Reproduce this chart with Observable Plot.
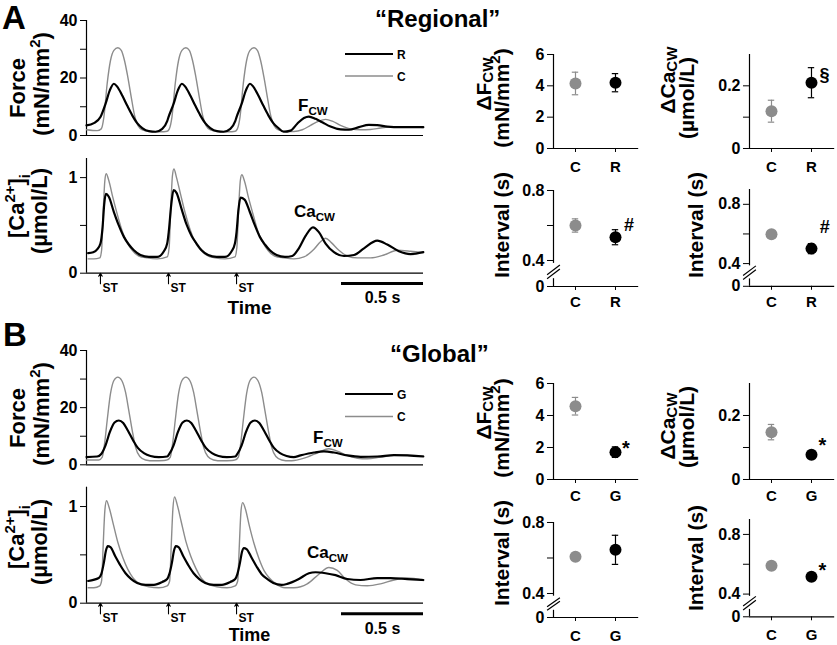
<!DOCTYPE html>
<html><head><meta charset="utf-8">
<script src="https://cdn.jsdelivr.net/npm/d3@7"></script>
<script src="https://cdn.jsdelivr.net/npm/@observablehq/plot@0.6"></script>
<style>
body{margin:0;background:#fff;}
#fig{position:relative;width:837px;height:645px;background:#fff;}
#fig svg{position:absolute;overflow:visible;}
</style></head><body><div id="fig"></div>
<script>
// ---------- time-series data: [time (ms), value] ----------
const T_MAX = 2055;
const stimTimes = [85, 500, 915];
const scaleBar = [1555, 2055];

const forceA_C = [[0,2.0],[65,1.7],[90,2.3],[106,6.4],[126,18],[146,26],[167,29.6],[191,30.5],[212,29.6],[232,26],[252,20.3],[273,13.3],[293,7],[313,3.5],[340,2],[390,1.4],[451,1.3],[492,1.5],
[505,2.3],[521,6.4],[541,18],[561,26],[582,29.6],[606,30.5],[627,29.6],[647,26],[667,20.3],[688,13.3],[708,7],[728,3.5],[755,2],[805,1.4],[866,1.3],[907,1.5],
[920,2.3],[936,6.4],[956,18],[976,26],[997,29.6],[1021,30.5],[1042,29.6],[1062,26],[1082,20.3],[1103,13.3],[1123,7],[1143,3.5],[1170,2],[1220,1.4],
[1265,1.4],[1316,2],[1366,3.5],[1417,5],[1458,5.6],[1499,5],[1549,3.5],[1610,2.3],[1671,2],[1732,2.1],[1793,2.6],[1865,3.1],[1936,3.1],[2054,2.8]];

const forceA_R = [[0,3.5],[45,4.3],[85,6.4],[116,11],[142,15.7],[167,18],[187,17],[218,13.9],[248,10.4],[279,7],[309,4.3],[340,2.6],[380,1.5],[421,1.3],[462,2.3],[492,5],
[500,6.4],[531,11],[557,15.7],[582,18],[602,17],[633,13.9],[663,10.4],[694,7],[724,4.3],[755,2.6],[795,1.5],[836,1.3],[877,2.3],[907,5],
[915,6.4],[946,11],[972,15.7],[997,18],[1017,17],[1048,13.9],[1078,10.4],[1109,7],[1139,4.3],[1170,2.6],[1202,1.3],
[1244,1.7],[1285,4.1],[1326,6.1],[1356,6.6],[1397,5.8],[1438,4.6],[1488,3.1],[1549,2.1],[1600,2],[1661,2.9],[1722,3.7],[1773,3.6],[1834,3.1],[1915,2.9],[2054,2.9]];

const caA_C = [[10,0.15],[45,0.15],[81,0.16],[92,0.24],[102,0.65],[112,0.97],[120,1.04],[136,0.97],[161,0.79],[187,0.62],[218,0.44],[248,0.32],[279,0.24],[319,0.18],[370,0.16],[431,0.15],[492,0.17],
[504,0.27],[514,0.69],[524,1.02],[533,1.09],[549,1.0],[573,0.83],[600,0.64],[631,0.46],[661,0.33],[692,0.25],[732,0.19],[783,0.16],[844,0.15],[905,0.17],
[917,0.27],[927,0.65],[938,0.97],[947,1.03],[964,0.96],[988,0.79],[1015,0.62],[1045,0.44],[1076,0.32],[1106,0.24],[1147,0.18],[1204,0.16],
[1265,0.15],[1326,0.17],[1387,0.25],[1427,0.33],[1458,0.365],[1493,0.32],[1539,0.24],[1590,0.18],[1651,0.16],[1732,0.16],[1814,0.19],[1895,0.24],[1976,0.23],[2054,0.215]];

const caA_R = [[10,0.21],[41,0.22],[65,0.25],[85,0.31],[98,0.48],[108,0.72],[118,0.83],[136,0.80],[167,0.64],[197,0.50],[228,0.38],[258,0.30],[289,0.24],[329,0.19],[380,0.17],[431,0.17],[472,0.23],[492,0.31],
[502,0.44],[517,0.72],[531,0.87],[549,0.84],[580,0.67],[610,0.51],[641,0.39],[671,0.31],[702,0.24],[742,0.19],[793,0.17],[844,0.17],[885,0.23],[905,0.31],
[915,0.43],[927,0.67],[939,0.79],[964,0.77],[996,0.64],[1027,0.50],[1057,0.38],[1088,0.30],[1118,0.24],[1159,0.19],[1210,0.17],
[1255,0.18],[1295,0.26],[1336,0.39],[1381,0.48],[1417,0.43],[1458,0.31],[1509,0.22],[1570,0.18],[1631,0.19],[1692,0.26],[1773,0.34],[1834,0.30],[1905,0.23],[1976,0.20],[2054,0.22]];

const forceB_C = [[0,1.7],[75,1.7],[96,2.7],[110,7.3],[126,15.5],[146,24.8],[167,29.5],[191,30.7],[215,29.5],[238,25.4],[258,19],[279,12],[299,6.2],[325,2.9],[360,1.7],[411,1.4],[472,1.5],[492,1.7],
[511,2.7],[525,7.3],[541,15.5],[561,24.8],[582,29.5],[606,30.7],[630,29.5],[653,25.4],[673,19],[694,12],[714,6.2],[740,2.9],[775,1.7],[826,1.4],[887,1.5],[907,1.7],
[926,2.7],[940,7.3],[956,15.5],[976,24.8],[997,29.5],[1021,30.7],[1045,29.5],[1068,25.4],[1088,19],[1109,12],[1129,6.2],[1155,2.9],[1190,1.7],[1241,1.4],
[1265,1.5],[1346,2.7],[1417,4.4],[1478,5.6],[1529,4.8],[1590,3.3],[1651,2.3],[1712,2.1],[1793,2.7],[1875,3.3],[1956,3.4],[2054,3.1]];

const forceB_G = [[0,2.7],[65,2.9],[90,3.8],[116,6.8],[142,11.4],[171,14.8],[197,15.5],[224,14.6],[252,12],[283,8.7],[313,5.9],[350,4.1],[390,3.1],[441,2.7],[492,2.9],
[505,3.8],[531,6.8],[557,11.4],[586,14.8],[612,15.5],[639,14.6],[667,12],[698,8.7],[728,5.9],[765,4.1],[805,3.1],[856,2.7],[907,2.9],
[920,3.8],[946,6.8],[972,11.4],[1001,14.8],[1027,15.5],[1054,14.6],[1082,12],[1113,8.7],[1143,5.9],[1180,4.1],[1220,3.1],
[1264,2.7],[1305,3.3],[1387,4.3],[1448,4.7],[1509,4.3],[1590,3.3],[1671,2.8],[1773,2.9],[1875,3.4],[1956,3.3],[2054,2.9]];

const caB_C = [[10,0.16],[45,0.16],[81,0.18],[92,0.23],[102,0.61],[112,0.96],[122,1.06],[138,0.99],[163,0.82],[191,0.63],[222,0.47],[252,0.35],[285,0.26],[325,0.2],[380,0.17],[441,0.16],[492,0.18],
[507,0.23],[517,0.61],[527,0.98],[537,1.10],[553,1.02],[578,0.84],[606,0.64],[637,0.48],[667,0.36],[700,0.26],[740,0.2],[795,0.17],[856,0.16],[907,0.18],
[922,0.23],[932,0.6],[942,0.95],[952,1.04],[968,0.98],[993,0.8],[1021,0.62],[1052,0.46],[1082,0.34],[1115,0.26],[1155,0.2],[1210,0.16],
[1265,0.16],[1346,0.2],[1417,0.30],[1478,0.37],[1529,0.34],[1580,0.25],[1641,0.19],[1712,0.18],[1793,0.2],[1875,0.24],[1956,0.26],[2054,0.235]];

const caB_G = [[10,0.23],[75,0.26],[90,0.30],[106,0.42],[118,0.54],[130,0.59],[146,0.58],[177,0.48],[207,0.39],[238,0.31],[273,0.25],[309,0.21],[360,0.19],[411,0.19],[462,0.22],[492,0.25],
[505,0.30],[521,0.42],[533,0.54],[545,0.59],[561,0.58],[592,0.48],[622,0.39],[653,0.31],[688,0.25],[724,0.21],[775,0.19],[826,0.19],[877,0.22],[907,0.25],
[920,0.30],[936,0.42],[948,0.53],[960,0.57],[976,0.56],[1007,0.47],[1037,0.38],[1068,0.30],[1103,0.25],[1139,0.21],[1190,0.19],
[1224,0.2],[1295,0.25],[1356,0.31],[1397,0.32],[1458,0.31],[1519,0.29],[1590,0.25],[1671,0.24],[1773,0.26],[1854,0.26],[1956,0.25],[2054,0.24]];

// ---------- summary data (mean, SEM) ----------
const groupsA = ["C", "R"];
const groupsB = ["C", "G"];
const dFcwA = [4.15, 4.2],  dFcwA_sem = [0.72, 0.58];
const dCacwA = [0.119, 0.21], dCacwA_sem = [0.035, 0.048];
const intFA = [0.60, 0.533], intFA_sem = [0.038, 0.043];
const intCaA = [0.598, 0.501], intCaA_sem = [0.01, 0.034];
const dFcwB = [4.58, 1.71], dFcwB_sem = [0.55, 0.33];
const dCacwB = [0.148, 0.077], dCacwB_sem = [0.024, 0.004];
const intFB = [0.607, 0.646], intFB_sem = [0.005, 0.082];
const intCaB = [0.59, 0.516], intCaB_sem = [0.005, 0.005];
const sigA_dCa = ["", "§"], sigA_intF = ["", "#"], sigA_intCa = ["", "#"];
const sigB_dF = ["", "*"], sigB_dCa = ["", "*"], sigB_intCa = ["", "*"];

// ---------- drawing ----------
const FONT = '"Liberation Sans", Arial, Helvetica, sans-serif';
const GRAY = "#8c8c8c";
const fig = document.getElementById("fig");
const baseStyle = {fontFamily: FONT, fontSize: "16px", fontWeight: "bold", background: "transparent", overflow: "visible", color: "black"};

function place(svg, left, top) {
  svg.style.position = "absolute";
  svg.style.left = left + "px";
  svg.style.top = top + "px";
  svg.style.maxWidth = "none";
  fig.append(svg);
}

function tsPlot({top, height, mt, mb, yMax, ticks, labeled, gray, black, ca}) {
  const xy = {x: d => d[0], y: d => d[1], curve: "monotone-x"};
  const marks = [
    Plot.ruleX([0], {y1: () => 0, y2: () => yMax, strokeWidth: 1.2}),
    Plot.ruleY([0], {strokeWidth: 1.2}),
    Plot.axisY({ticks, tickFormat: d => labeled.includes(d) ? String(d) : "", tickSize: 6, tickPadding: 3}),
    Plot.line(gray, {...xy, stroke: GRAY, strokeWidth: 1.4}),
    Plot.line(black, {...xy, stroke: "black", strokeWidth: 2.2})
  ];
  if (ca) {
    marks.push(
      Plot.arrow(stimTimes, {x: d => d, y1: () => -0.11, y2: () => 0, headLength: 5, strokeWidth: 1.1}),
      Plot.text(stimTimes, {x: d => d, y: () => -0.195, text: () => "ST", dx: 2, textAnchor: "start", lineAnchor: "bottom", fontSize: 12}),
      Plot.ruleY([scaleBar], {y: () => -0.108, x1: d => d[0], x2: d => d[1], strokeWidth: 3}),
      Plot.text([scaleBar], {x: d => (d[0] + d[1]) / 2, y: () => -0.317, text: d => ((d[1] - d[0]) / 1000) + " s", lineAnchor: "bottom", fontSize: 16})
    );
  }
  const svg = Plot.plot({
    width: 430, height, marginLeft: 86, marginRight: 7, marginTop: mt, marginBottom: mb,
    x: {domain: [0, T_MAX], axis: null},
    y: {domain: [0, yMax], axis: null},
    style: baseStyle, marks
  });
  place(svg, 0, top);
}

tsPlot({top: 0, height: 150, mt: 20, mb: 15, yMax: 40, ticks: [0,10,20,30,40], labeled: [0,20,40], gray: forceA_C, black: forceA_R});
tsPlot({top: 150, height: 165, mt: 8, mb: 42.3, yMax: 1.2, ticks: [0,0.5,1], labeled: [0,1], gray: caA_C, black: caA_R, ca: true});
tsPlot({top: 330, height: 150, mt: 20, mb: 15.7, yMax: 40, ticks: [0,10,20,30,40], labeled: [0,20,40], gray: forceB_C, black: forceB_G});
tsPlot({top: 478, height: 167, mt: 8.7, mb: 42.3, yMax: 1.2, ticks: [0,0.5,1], labeled: [0,1], gray: caB_C, black: caB_G, ca: true});

// Summary dot plot. yPage gives the page y of each yDomain value; with three
// values [0, 0.4, top] the axis is broken between 0 and 0.4.
function dotPlot({axisX, yDomain, yPage, ticks, labeled, groups, values, sems, sig, sigDx = 0, sigDy = 0, sigSize = 18, brk, labelPad}) {
  const top = Math.min(...yPage) - 15;
  const bottom = Math.max(...yPage);
  const ML = 45, MR = 12;
  const xd = [0.45, 2.58];
  const width = ML + (xd[1] - xd[0]) * 40 + MR;
  const height = bottom - top + 30;
  const idx = [0, 1];
  const yTop = yDomain[yDomain.length - 1];
  let yb = v => v;
  if (yDomain.length === 3) {
    const [p0, p4, pT] = yPage;
    const k = (p4 - pT) / (yTop - yDomain[1]);
    const lowUnits = (p0 - p4) / k;
    const b = yDomain[1];
    yb = v => v >= b ? v : b - (b - v) / b * lowUnits;
  }
  const y0 = yb(0);
  const col = i => i === 0 ? GRAY : "black";
  const axisSegs = brk ? [[0, brk[0]], [brk[1], yTop]] : [[0, yTop]];
  const caps = [0, 1, 0, 1].map((i, k) => ({i, s: k < 2 ? -1 : 1}));
  const tickPos = ticks.map(yb);
  const marks = [
    Plot.ruleY([y0], {strokeWidth: 1.2}),
    Plot.ruleX(axisSegs, {x: () => xd[0], y1: d => yb(d[0]), y2: d => yb(d[1]), strokeWidth: 1.2}),
    Plot.axisY({ticks: tickPos, tickFormat: d => { const t = ticks[tickPos.indexOf(d)]; return labeled.includes(t) ? String(t) : ""; }, tickSize: 6, tickPadding: 3}),
    Plot.axisX({ticks: [1, 2], tickFormat: d => groups[d - 1], tickSize: 4, tickPadding: labelPad, fontSize: 15}),
    Plot.ruleX(idx, {x: i => i + 1, y1: i => yb(values[i] - sems[i]), y2: i => yb(values[i] + sems[i]), stroke: col, strokeWidth: 1.2}),
    Plot.ruleY(caps, {y: d => yb(values[d.i] + d.s * sems[d.i]), x1: d => d.i + 1 - 0.08, x2: d => d.i + 1 + 0.08, stroke: d => col(d.i), strokeWidth: 1.2}),
    Plot.dot(idx, {x: i => i + 1, y: i => yb(values[i]), r: 6, fill: col, stroke: "none"})
  ];
  if (brk) marks.push(Plot.link(brk.slice(2), {x1: () => xd[0] - 0.16, x2: () => xd[0] + 0.16, y1: d => yb(d[0]), y2: d => yb(d[1]), strokeWidth: 1.2}));
  if (sig) marks.push(Plot.text(idx, {x: i => i + 1, y: i => yb(values[i]), text: i => sig[i], dx: sigDx, dy: sigDy, textAnchor: "start", fontSize: sigSize}));
  const svg = Plot.plot({
    width, height, marginLeft: ML, marginRight: MR, marginTop: 15, marginBottom: 30,
    x: {domain: xd, axis: null},
    y: {domain: [y0, yTop], axis: null},
    color: {type: "identity"},
    style: baseStyle, marks
  });
  place(svg, axisX - ML, top);
}

const brkL = [0.12, 0.355, [0.12, 0.27], [0.18, 0.33]];
const brkR = [0.13, 0.36, [0.12, 0.29], [0.19, 0.36]];
// Panel A
dotPlot({axisX: 552.5, yDomain: [0, 6], yPage: [148.3, 54.3], ticks: [0,2,4,6], labeled: [0,2,4,6], groups: groupsA, values: dFcwA, sems: dFcwA_sem, labelPad: 9});
dotPlot({axisX: 749, yDomain: [0, 0.3], yPage: [148.3, 54.3], ticks: [0,0.1,0.2], labeled: [0,0.2], groups: groupsA, values: dCacwA, sems: dCacwA_sem, sig: sigA_dCa, sigDx: 8, sigDy: -7, sigSize: 18, labelPad: 9});
dotPlot({axisX: 552.5, yDomain: [0, 0.4, 0.8], yPage: [286, 260, 190], ticks: [0,0.4,0.6,0.8], labeled: [0,0.4,0.8], groups: groupsA, values: intFA, sems: intFA_sem, sig: sigA_intF, sigDx: 8.5, sigDy: -11.5, sigSize: 18, brk: brkL, labelPad: 6});
dotPlot({axisX: 748.5, yDomain: [0, 0.4, 0.9], yPage: [286, 263.3, 189.2], ticks: [0,0.4,0.6,0.8], labeled: [0,0.4,0.8], groups: groupsA, values: intCaA, sems: intCaA_sem, sig: sigA_intCa, sigDx: 8.3, sigDy: -21, sigSize: 18, brk: brkR, labelPad: 6});
// Panel B
dotPlot({axisX: 552.5, yDomain: [0, 6], yPage: [479, 383], ticks: [0,2,4,6], labeled: [0,2,4,6], groups: groupsB, values: dFcwB, sems: dFcwB_sem, sig: sigB_dF, sigDx: 6.5, sigDy: -3.5, sigSize: 20, labelPad: 7});
dotPlot({axisX: 749, yDomain: [0, 0.3], yPage: [479, 383], ticks: [0,0.1,0.2], labeled: [0,0.2], groups: groupsB, values: dCacwB, sems: dCacwB_sem, sig: sigB_dCa, sigDx: 7, sigDy: -9, sigSize: 20, labelPad: 7});
dotPlot({axisX: 552.5, yDomain: [0, 0.4, 0.8], yPage: [616.7, 592.7, 521.7], ticks: [0,0.4,0.6,0.8], labeled: [0,0.4,0.8], groups: groupsB, values: intFB, sems: intFB_sem, brk: brkL, labelPad: 9});
dotPlot({axisX: 748.5, yDomain: [0, 0.4, 0.9], yPage: [616.7, 594, 519.4], ticks: [0,0.4,0.6,0.8], labeled: [0,0.4,0.8], groups: groupsB, values: intCaB, sems: intCaB_sem, sig: sigB_intCa, sigDx: 7, sigDy: -6.5, sigSize: 20, brk: brkR, labelPad: 9});

// ---------- text overlay ----------
const ov = d3.create("svg").attr("width", 837).attr("height", 645)
  .style("left", "0px").style("top", "0px").style("pointer-events", "none")
  .attr("font-family", FONT).attr("font-weight", "bold");

function txt(x, y, parts, {size = 16, rotate = false, anchor = "start", sub = 0.68, subShift = 0.25} = {}) {
  const t = ov.append("text").attr("font-size", size).attr("text-anchor", anchor).attr("fill", "black");
  if (rotate) t.attr("transform", `translate(${x},${y}) rotate(-90)`);
  else t.attr("x", x).attr("y", y);
  let shift = 0;
  for (const p of parts) {
    const s = typeof p === "string" ? {t: p} : p;
    const target = s.sub ? subShift : s.sup ? -0.42 : 0;
    const ts = t.append("tspan").text(s.t);
    if (s.sub || s.sup) ts.attr("font-size", size * sub);
    const dy = (target - shift) * size;
    if (dy) ts.attr("dy", dy);
    shift = target;
  }
}

// panel letters and titles
txt(2, 29, ["A"], {size: 33});
txt(3, 346, ["B"], {size: 33});
txt(375, 27, ["\u201CRegional\u201D"], {size: 24});
txt(390, 362, ["\u201CGlobal\u201D"], {size: 24});

// time-series y titles
for (const [fy, cy] of [[0, 0], [330, 331]]) {
  txt(25, 88 + fy, ["Force"], {size: 22, rotate: true, anchor: "middle"});
  txt(49, 84 + fy, ["(mN/mm", {t: "2", sup: true}, ")"], {size: 22, rotate: true, anchor: "middle"});
  txt(24, 206 + cy, ["[Ca", {t: "2+", sup: true}, "]", {t: "i", sub: true}], {size: 22, rotate: true, anchor: "middle"});
  txt(47, 211 + cy, ["(\u00B5mol/L)"], {size: 22, rotate: true, anchor: "middle"});
}
txt(249.5, 314, ["Time"], {size: 19, anchor: "middle"});
txt(249.5, 641, ["Time"], {size: 18, anchor: "middle"});

// trace annotations
txt(298, 111, ["F", {t: "CW", sub: true}], {size: 17});
txt(313, 443, ["F", {t: "CW", sub: true}], {size: 17});
txt(294, 217, ["Ca", {t: "CW", sub: true}], {size: 17});
txt(307, 558, ["Ca", {t: "CW", sub: true}], {size: 17});

// legends
function legend(y1, y2, name) {
  ov.append("line").attr("x1", 345).attr("x2", 393).attr("y1", y1).attr("y2", y1).attr("stroke", "black").attr("stroke-width", 2.2);
  ov.append("line").attr("x1", 345).attr("x2", 393).attr("y1", y2).attr("y2", y2).attr("stroke", GRAY).attr("stroke-width", 1.4);
  txt(397, y1 + 4.5, [name], {size: 12});
  txt(397, y2 + 4.5, ["C"], {size: 12});
}
legend(54, 76, "R");
legend(394, 416.5, "G");

// dot-plot y titles
const dt = {size: 21, rotate: true, anchor: "middle", sub: 0.72, subShift: 0.1};
txt(491, 84, ["\u0394F", {t: "CW", sub: true}], dt);
txt(509, 98, ["(mN/mm", {t: "2", sup: true}, ")"], dt);
txt(675, 80, ["\u0394Ca", {t: "CW", sub: true}], dt);
txt(694, 98, ["(\u00B5mol/L)"], dt);
txt(509, 225, ["Interval (s)"], dt);
txt(703, 225, ["Interval (s)"], dt);
txt(491, 413, ["\u0394F", {t: "CW", sub: true}], dt);
txt(509, 428, ["(mN/mm", {t: "2", sup: true}, ")"], dt);
txt(675, 426, ["\u0394Ca", {t: "CW", sub: true}], dt);
txt(694, 427, ["(\u00B5mol/L)"], dt);
txt(509, 553, ["Interval (s)"], dt);
txt(703, 558, ["Interval (s)"], dt);

fig.append(ov.node());
</script></body></html>
